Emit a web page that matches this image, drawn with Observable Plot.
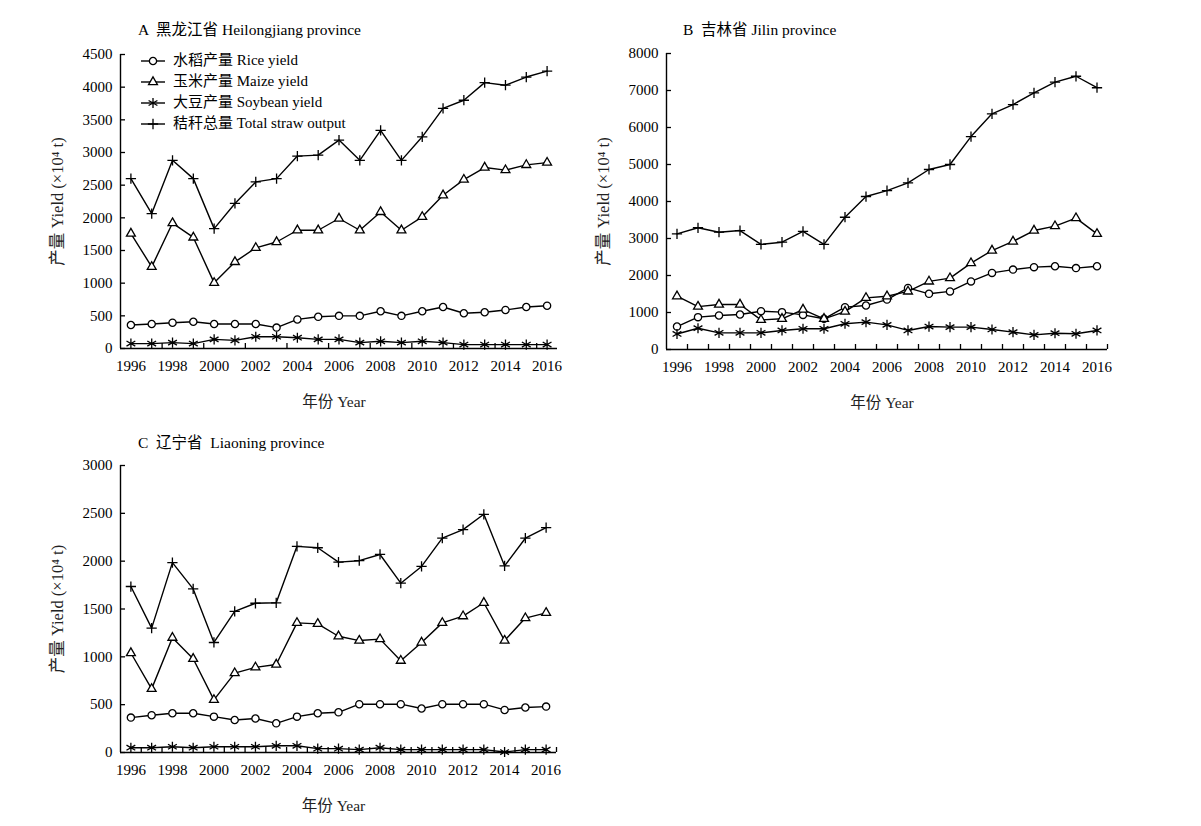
<!DOCTYPE html>
<html>
<head>
<meta charset="utf-8">
<script src="https://cdn.jsdelivr.net/npm/d3@7"></script>
<script src="https://cdn.jsdelivr.net/npm/@observablehq/plot@0.6"></script>
<style>
  body { margin: 0; background: #fff; }
  #root { position: relative; width: 1201px; height: 826px; overflow: hidden;
          font-family: "Liberation Serif", "Times New Roman", "Noto Sans CJK SC", serif; color: #000; }
  .panel { position: absolute; }
  .title { position: absolute; font-size: 15.5px; white-space: pre; line-height: 1; }
  .legend { position: absolute; font-size: 15px; line-height: 1; }
  .legend .row { display: flex; align-items: center; height: 21px; }
  .legend svg { display: block; margin-right: 6px; }
</style>
</head>
<body>
<div id="root"></div>
<script>
// ---------------- data ----------------
const years = [1996, 1997, 1998, 1999, 2000, 2001, 2002, 2003, 2004, 2005, 2006,
               2007, 2008, 2009, 2010, 2011, 2012, 2013, 2014, 2015, 2016];
const yearLabels = [1996, 1998, 2000, 2002, 2004, 2006, 2008, 2010, 2012, 2014, 2016];

const seriesNames = ["水稻产量 Rice yield", "玉米产量 Maize yield", "大豆产量 Soybean yield", "秸秆总量 Total straw output"];
const yAxisTitle = "产量 Yield (×10⁴ t)";
const xAxisTitle = "年份 Year";

// A 黑龙江省 Heilongjiang
const hljRice  = [360, 375, 395, 410, 375, 375, 375, 320, 445, 485, 500, 500, 570, 500, 570, 635, 540, 555, 590, 635, 655];
const hljMaize = [1760, 1250, 1920, 1700, 1005, 1325, 1540, 1630, 1810, 1810, 1990, 1810, 2090, 1810, 2015, 2345, 2585, 2770, 2730, 2810, 2845];
const hljSoy   = [75, 75, 90, 75, 140, 125, 180, 180, 165, 140, 140, 90, 110, 90, 110, 90, 60, 60, 60, 60, 60];
const hljStraw = [2600, 2065, 2880, 2600, 1835, 2220, 2550, 2600, 2945, 2960, 3190, 2880, 3340, 2880, 3240, 3675, 3800, 4070, 4030, 4155, 4245];
const hljTicks = [0, 500, 1000, 1500, 2000, 2500, 3000, 3500, 4000, 4500];

// B 吉林省 Jilin
const jlRice  = [620, 875, 920, 945, 1035, 1010, 935, 830, 1145, 1190, 1350, 1665, 1505, 1570, 1840, 2070, 2160, 2225, 2250, 2200, 2250];
const jlMaize = [1440, 1160, 1215, 1215, 800, 830, 1080, 830, 1025, 1395, 1440, 1570, 1840, 1930, 2335, 2675, 2920, 3215, 3335, 3550, 3125];
const jlSoy   = [420, 575, 450, 450, 450, 515, 560, 560, 695, 740, 665, 515, 620, 605, 605, 540, 470, 395, 440, 425, 515];
const jlStraw = [3125, 3290, 3170, 3215, 2840, 2900, 3190, 2840, 3575, 4135, 4295, 4505, 4865, 5000, 5755, 6370, 6620, 6935, 7225, 7385, 7075];
const jlTicks = [0, 1000, 2000, 3000, 4000, 5000, 6000, 7000, 8000];

// C 辽宁省 Liaoning
const lnRice  = [365, 390, 410, 410, 375, 340, 355, 305, 375, 410, 420, 505, 505, 505, 460, 505, 505, 505, 445, 470, 480];
const lnMaize = [1040, 665, 1200, 980, 550, 830, 890, 920, 1355, 1345, 1215, 1170, 1185, 960, 1150, 1355, 1425, 1565, 1170, 1405, 1460];
const lnSoy   = [50, 50, 60, 50, 60, 60, 60, 70, 70, 40, 40, 30, 50, 30, 30, 30, 30, 30, 5, 30, 30];
const lnStraw = [1735, 1300, 1985, 1710, 1150, 1475, 1560, 1565, 2155, 2140, 1990, 2005, 2070, 1770, 1945, 2240, 2330, 2490, 1950, 2240, 2350];
const lnTicks = [0, 500, 1000, 1500, 2000, 2500, 3000];

// year-band boundaries (category axis tick positions)
const bandEdgesAll = [1996.5, 1997.5, 1998.5, 1999.5, 2000.5, 2001.5, 2002.5, 2003.5, 2004.5, 2005.5,
                      2006.5, 2007.5, 2008.5, 2009.5, 2010.5, 2011.5, 2012.5, 2013.5, 2014.5, 2015.5, 2016.5];
const bandEdgesEven = [1997.5, 1999.5, 2001.5, 2003.5, 2005.5, 2007.5, 2009.5, 2011.5, 2013.5, 2015.5];

// ---------------- styling ----------------
const symbolStyles = [
  {symbol: "circle",   r: 3.6},
  {symbol: "triangle", r: 3.3},
  {symbol: "asterisk", r: 4.8},
  {symbol: "plus",     r: 3.4}
];
const d3Symbols = {circle: d3.symbolCircle, triangle: d3.symbolTriangle, asterisk: d3.symbolAsterisk, plus: d3.symbolPlus};
const FONT = '"Liberation Serif", "Times New Roman", "Noto Sans CJK SC", serif';

const root = document.getElementById("root");

function makePanel({left, top, width, height, margin, yMax, yTicks, seriesValues, edges}) {
  const marks = [];
  seriesValues.forEach((vals, i) => {
    const rows = years.map((y, j) => ({year: y, value: vals[j]}));
    const st = symbolStyles[i];
    marks.push(Plot.line(rows, {x: "year", y: "value", stroke: "#000", strokeWidth: 1.4}));
    marks.push(Plot.dot(rows, {x: "year", y: "value", symbol: () => st.symbol, r: st.r,
      stroke: "#000", strokeWidth: 1.3, fill: st.symbol === "circle" || st.symbol === "triangle" ? "#fff" : "none"}));
  });
  marks.push(Plot.ruleX([1995.5], {stroke: "#000", strokeWidth: 1.4}));
  marks.push(Plot.ruleY([0], {stroke: "#000", strokeWidth: 1.4}));
  marks.push(Plot.axisY(yTicks, {tickSize: 0, tickPadding: 8, tickFormat: "d", fontSize: 15, label: null, fill: "#000"}));
  marks.push(Plot.axisY(yTicks, {tickSize: -5, tickFormat: () => "", label: null, strokeWidth: 1.3}));
  marks.push(Plot.axisX(yearLabels, {tickSize: 0, tickPadding: 12, tickFormat: "d", fontSize: 15, label: null, fill: "#000"}));
  marks.push(Plot.axisX(edges, {tickSize: -5, tickFormat: () => "", label: null, strokeWidth: 1.3}));
  // axis titles
  marks.push(Plot.text([yAxisTitle], {frameAnchor: "left", rotate: -90, dx: -63, fontSize: 16.5,
    textAnchor: "middle", lineAnchor: "middle", fill: "#222"}));
  marks.push(Plot.text([xAxisTitle], {frameAnchor: "bottom", dy: 54, dx: -5, fontSize: 15.5,
    textAnchor: "middle", lineAnchor: "middle", fill: "#222"}));

  const svg = Plot.plot({
    width, height,
    marginLeft: margin.left, marginRight: margin.right, marginTop: margin.top, marginBottom: margin.bottom,
    x: {domain: [1995.5, 2016.5]},
    y: {domain: [0, yMax]},
    style: {fontFamily: FONT, fontSize: "15px", color: "#000", background: "transparent", overflow: "visible"},
    marks
  });
  const div = document.createElement("div");
  div.className = "panel";
  div.style.left = left + "px";
  div.style.top = top + "px";
  div.appendChild(svg);
  root.appendChild(div);
}

function addTitle(text, left, top) {
  const t = document.createElement("div");
  t.className = "title";
  t.style.left = left + "px";
  t.style.top = top + "px";
  t.textContent = text;
  root.appendChild(t);
}

// Panel A
makePanel({left: 0, top: 0, width: 600, height: 420,
  margin: {left: 120, right: 43, top: 54, bottom: 72},
  yMax: 4500, yTicks: hljTicks, seriesValues: [hljRice, hljMaize, hljSoy, hljStraw], edges: bandEdgesEven});
// Panel B
makePanel({left: 545, top: 0, width: 600, height: 420,
  margin: {left: 121, right: 38, top: 53, bottom: 71},
  yMax: 8000, yTicks: jlTicks, seriesValues: [jlRice, jlMaize, jlSoy, jlStraw], edges: bandEdgesAll});
// Panel C
makePanel({left: 0, top: 412, width: 600, height: 414,
  margin: {left: 120, right: 44, top: 53, bottom: 74},
  yMax: 3000, yTicks: lnTicks, seriesValues: [lnRice, lnMaize, lnSoy, lnStraw], edges: bandEdgesAll});

addTitle("A  黑龙江省 Heilongjiang province", 138, 22);
addTitle("B  吉林省 Jilin province", 683, 22);
addTitle("C  辽宁省  Liaoning province", 138, 435);

// Legend (panel A)
const legend = document.createElement("div");
legend.className = "legend";
legend.style.left = "141px";
legend.style.top = "50px";
seriesNames.forEach((name, i) => {
  const st = symbolStyles[i];
  const row = document.createElement("div");
  row.className = "row";
  const s = d3.create("svg").attr("width", 26).attr("height", 20);
  s.append("line").attr("x1", 0).attr("x2", 24).attr("y1", 10).attr("y2", 10)
    .attr("stroke", "#000").attr("stroke-width", 1.4);
  s.append("path")
    .attr("transform", "translate(12,10)")
    .attr("d", d3.symbol(d3Symbols[st.symbol], Math.PI * st.r * st.r)())
    .attr("stroke", "#000").attr("stroke-width", 1.3)
    .attr("fill", st.symbol === "circle" || st.symbol === "triangle" ? "#fff" : "none");
  row.appendChild(s.node());
  const span = document.createElement("span");
  span.textContent = name;
  row.appendChild(span);
  legend.appendChild(row);
});
root.appendChild(legend);
</script>
</body>
</html>
